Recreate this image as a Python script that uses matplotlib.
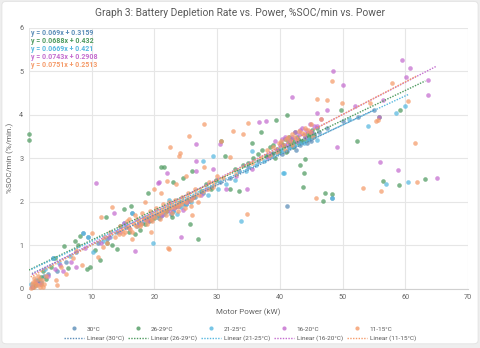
import numpy as np
import matplotlib
matplotlib.use("Agg")
import matplotlib.pyplot as plt
from matplotlib.patches import FancyBboxPatch
from matplotlib.lines import Line2D

plt.rcParams['font.family'] = ['Roboto', 'DejaVu Sans']

labels = ["30°C", "26-29°C", "21-25°C", "16-20°C", "11-15°C"]
colors = ["#5B8DB8", "#4E9A60", "#56B8E0", "#C46CCF", "#F59B6A"]
slopes = [0.069, 0.0688, 0.0669, 0.0743, 0.0751]
intercepts = [0.3159, 0.432, 0.421, 0.2908, 0.2513]
equations = ["y = 0.069x + 0.3159", "y = 0.0688x + 0.432", "y = 0.0669x + 0.421",
             "y = 0.0743x + 0.2908", "y = 0.0751x + 0.2513"]

# 30°C
x_30 = [0.5, 0.8, 1.2, 1.5, 2.0, 2.4, 3.1, 3.9, 4.5, 6.0, 7.5, 8.7, 9.4, 11.0, 12.5, 14.0,
        15.5, 16.4, 17.2, 18.0, 18.8, 19.5, 20.2, 20.8, 21.5, 22.0, 22.6, 23.3, 24.0, 24.8,
        25.5, 26.5, 27.8, 29.0, 30.5, 32.0, 33.5, 35.0, 36.5, 38.0, 39.0, 40.0, 40.6, 41.2,
        41.8, 42.3, 42.9, 43.5, 44.1, 44.8, 45.5, 46.2, 41.1, 48.3, 47.5, 50.0, 52.5, 55.0,
        40.3, 41.5, 42.6, 43.2, 44.4, 45.0, 19.0, 21.0, 23.0, 25.0]
y_30 = [0.05, 0.12, 0.08, 0.2, 0.15, 0.3, 0.35, 0.71, 0.4, 0.62, 0.85, 1.28, 1.2, 1.05, 1.15, 1.3,
        1.42, 1.75, 1.45, 1.52, 1.6, 1.58, 1.7, 1.62, 1.75, 1.8, 1.72, 1.88, 1.9, 1.95,
        2.02, 2.1, 2.2, 2.35, 2.45, 2.55, 2.7, 2.8, 2.95, 3.05, 3.12, 3.2, 3.3, 3.18,
        3.35, 3.28, 3.42, 3.38, 3.5, 3.45, 3.55, 3.6, 1.91, 2.09, 3.7, 3.85, 3.95, 4.1,
        3.1, 3.25, 3.2, 3.3, 3.35, 3.4, 1.62, 1.68, 1.78, 1.95]

# 26-29°C
x_26 = [0.0, 0.0, 0.6, 1.0, 1.3, 1.9, 2.2, 2.8, 3.5, 4.2, 5.6, 6.3, 7.3, 7.8, 8.1, 9.2, 9.8,
        10.5, 11.3, 12.3, 12.4, 13.2, 14.1, 15.1, 16.3, 17.0, 17.8, 18.5, 19.2, 20.0, 20.6,
        21.1, 21.5, 21.8, 22.4, 22.9, 23.5, 24.1, 24.6, 25.2, 25.7, 26.2, 27.0, 27.5, 28.3,
        29.0, 29.8, 30.7, 31.3, 32.0, 32.8, 33.5, 34.2, 35.0, 35.8, 36.5, 37.2, 37.8, 38.4,
        39.0, 39.4, 39.8, 40.2, 40.6, 41.1, 41.3, 41.7, 42.0, 42.3, 42.7, 43.0, 43.3, 43.7,
        43.9, 44.0, 44.3, 44.6, 45.0, 45.5, 46.0, 46.9, 47.2, 48.3, 49.8, 52.3, 55.8, 56.4,
        59.0, 59.1, 63.2, 37.0, 35.5, 26.0, 23.0, 19.0, 16.0, 14.5,
        38.8, 39.6, 40.4, 41.0, 41.5, 42.1, 42.5, 42.9, 43.5, 44.2, 44.8, 45.2, 40.9, 39.2]
y_26 = [3.55, 3.42, 0.05, 0.1, 0.18, 0.28, 0.4, 0.22, 0.5, 0.72, 0.99, 0.48, 1.1, 1.01, 1.22, 0.45, 0.5,
        0.9, 0.67, 1.66, 1.05, 1.0, 0.91, 1.83, 1.91, 1.25, 1.35, 1.5, 1.55, 1.62, 1.7,
        2.81, 2.8, 1.78, 1.85, 1.65, 1.9, 2.0, 2.55, 2.05, 1.49, 2.1, 1.14, 2.25, 2.4,
        2.3, 2.5, 3.4, 3.06, 2.3, 2.75, 2.25, 2.85, 2.9, 3.0, 3.1, 3.2, 3.05, 3.25,
        3.3, 3.88, 3.15, 3.35, 3.28, 4.0, 3.4, 3.32, 3.45, 3.38, 3.5, 3.42, 2.85, 2.35,
        2.67, 2.98, 3.55, 3.48, 3.6, 3.52, 3.7, 2.03, 2.2, 2.18, 4.11, 3.39, 3.95, 2.47,
        2.38, 4.1, 2.52, 3.6, 3.35, 2.7, 2.45, 2.2, 1.3, 1.45,
        3.1, 3.22, 3.3, 3.15, 3.5, 3.25, 3.6, 3.35, 3.4, 3.42, 3.55, 3.65, 3.45, 3.0]

# 21-25°C
x_21 = [0.4, 1.1, 2.0, 2.6, 3.9, 4.8, 6.5, 8.7, 9.4, 10.2, 11.8, 13.0, 15.2, 16.4, 17.5, 18.6,
        19.8, 20.5, 21.6, 22.3, 23.0, 23.6, 24.3, 25.0, 25.8, 27.8, 28.5, 29.4, 30.2, 31.5,
        32.8, 33.9, 34.6, 35.5, 36.2, 37.5, 38.6, 39.5, 40.3, 40.5, 40.6, 41.4, 42.2, 43.0,
        43.8, 44.5, 45.3, 46.0, 48.3, 51.0, 54.0, 57.0, 58.5, 60.5, 60.0]
y_21 = [0.1, 0.2, 0.12, 0.45, 0.71, 0.6, 0.75, 1.28, 1.2, 0.85, 1.1, 1.2, 1.51, 1.75, 1.48, 1.58,
        1.06, 1.65, 1.72, 2.05, 1.8, 1.72, 1.88, 1.95, 2.0, 2.93, 2.15, 3.06, 2.3, 2.4,
        2.5, 1.55, 2.7, 3.16, 2.85, 2.95, 3.05, 3.12, 3.2, 2.67, 2.66, 3.25, 3.3, 3.38,
        3.36, 3.45, 3.5, 3.42, 2.09, 3.9, 3.75, 2.41, 4.05, 2.45, 4.2]

# 16-20°C
x_16 = [0.5, 1.2, 1.8, 3.0, 4.2, 4.9, 5.5, 6.8, 7.5, 9.0, 10.7, 11.5, 12.8, 13.5, 14.6, 15.2,
        16.0, 16.9, 17.6, 18.4, 19.0, 19.7, 20.6, 20.7, 21.3, 22.0, 22.5, 23.1, 23.8, 24.2,
        24.5, 25.2, 26.0, 26.7, 26.7, 26.7, 27.4, 28.2, 29.4, 30.4, 31.5, 33.0, 34.7, 35.5,
        36.7, 37.8, 38.5, 39.2, 40.0, 40.8, 41.5, 41.9, 42.4, 43.0, 43.6, 44.2, 44.8, 45.5,
        45.9, 46.5, 47.5, 48.5, 49.2, 50.0, 52.0, 55.8, 56.0, 56.5, 58.9, 59.5, 60.1, 60.8,
        63.7, 63.7, 65.0, 39.6, 40.4, 41.2, 42.0, 42.8, 43.3, 44.0, 45.0, 46.0, 38.2]
y_16 = [0.05, 0.15, 0.1, 0.3, 0.45, 0.55, 0.4, 0.62, 0.5, 0.94, 2.44, 1.05, 1.2, 1.74, 1.3, 1.51,
        1.4, 0.87, 1.5, 1.6, 1.55, 1.68, 2.44, 2.45, 1.7, 2.67, 1.78, 1.85, 1.9, 1.2,
        1.82, 2.0, 2.08, 3.33, 2.93, 2.72, 2.15, 2.3, 2.75, 3.33, 2.29, 2.6, 2.29, 2.75,
        3.84, 3.85, 3.1, 3.4, 3.3, 3.5, 3.42, 4.42, 3.6, 3.55, 3.7, 3.65, 3.8, 3.75,
        4.05, 3.9, 4.1, 5.0, 3.27, 4.69, 4.2, 3.95, 2.91, 4.33, 2.73, 5.25, 4.86, 5.07,
        4.79, 4.45, 2.54, 3.2, 3.45, 3.3, 3.5, 3.4, 3.65, 3.5, 3.6, 3.75, 3.0]

# 11-15°C
x_11 = [0.3, 0.5, 0.8, 1.0, 1.3, 1.6, 2.0, 2.3, 2.8, 4.4, 4.5, 5.2, 6.0, 7.0, 7.6, 8.5,
        10.0, 11.0, 11.5, 11.9, 12.5, 13.3, 13.8, 14.3, 14.8, 15.3, 15.8, 16.2, 16.7, 17.1,
        17.5, 17.9, 18.3, 18.7, 19.1, 19.4, 19.8, 20.1, 20.4, 20.7, 21.0, 21.3, 21.6, 21.9,
        22.2, 22.5, 22.8, 23.1, 23.4, 23.7, 24.0, 24.3, 24.6, 25.0, 25.4, 25.8, 26.2, 26.7,
        27.2, 27.8, 28.5, 22.3, 22.2, 22.0, 22.5, 24.1, 24.0, 25.5, 27.9, 30.7, 32.1, 32.5,
        34.1, 34.7, 34.9, 20.0, 18.5, 16.5, 19.5, 21.0, 23.5, 25.0, 26.0, 28.0, 29.5, 31.0,
        33.0, 35.5, 37.0, 38.0, 39.0, 39.8, 40.5, 41.0, 41.6, 42.0, 42.5, 43.0, 43.5, 44.0,
        44.5, 45.0, 45.8, 45.9, 46.5, 47.5, 48.3, 49.9, 54.4, 55.4, 55.7, 56.1, 57.9, 60.5,
        61.5, 61.8, 53.2,
        15.0, 15.6, 16.0, 16.4, 16.9, 17.3, 17.7, 18.1, 18.9, 19.3, 19.6, 20.3, 20.9, 21.4,
        21.8, 22.4, 22.9, 23.3, 23.8, 24.4, 24.9, 25.3, 25.9, 26.5, 27.0, 14.5, 13.0, 12.0,
        28.8, 29.3, 30.0, 38.5, 39.5, 40.2, 40.8, 41.3, 41.9, 42.8, 43.8, 44.8, 45.3,
        0.6, 0.9, 1.2, 1.5, 1.8, 2.1, 2.5]
y_11 = [0.02, 0.1, 0.05, 0.18, 0.08, 0.22, 0.12, 0.05, 0.3, 0.21, 0.08, 0.5, 0.35, 0.7, 0.9, 0.55,
        1.29, 0.74, 1.66, 0.97, 1.05, 1.88, 1.2, 1.25, 1.35, 1.3, 1.42, 1.38, 1.5, 1.45,
        1.55, 1.5, 1.62, 1.58, 1.65, 1.6, 1.7, 1.66, 1.75, 1.72, 1.8, 1.76, 1.84, 1.8,
        1.88, 1.85, 1.92, 1.88, 1.95, 1.9, 1.98, 1.94, 2.02, 2.0, 2.08, 2.05, 2.12, 2.18,
        2.15, 2.25, 2.3, 0.91, 0.93, 2.47, 3.25, 3.12, 3.05, 3.52, 3.79, 3.4, 3.03, 3.63,
        3.55, 1.72, 3.81, 2.3, 2.0, 1.15, 1.3, 2.2, 2.4, 2.6, 1.7, 2.8, 2.4, 2.55,
        2.65, 2.9, 3.0, 3.2, 3.25, 3.35, 3.3, 3.45, 3.4, 3.55, 3.5, 3.62, 3.58, 3.7,
        3.65, 3.8, 2.08, 4.36, 3.9, 4.34, 4.78, 4.28, 4.27, 3.85, 3.88, 2.24, 4.74, 4.32,
        3.36, 2.45, 2.32,
        1.25, 1.55, 1.6, 1.3, 1.7, 1.6, 1.45, 1.75, 1.5, 1.8, 1.55, 1.85, 1.6, 1.95,
        1.7, 2.0, 1.75, 2.05, 1.8, 2.1, 1.85, 2.2, 1.9, 2.3, 2.0, 1.45, 1.3, 1.2,
        2.45, 2.35, 2.6, 3.05, 3.15, 3.4, 3.2, 3.5, 3.3, 3.45, 3.55, 3.6, 3.5,
        0.15, 0.25, 0.12, 0.3, 0.05, 0.2, 0.1]

xs = [x_30, x_26, x_21, x_16, x_11]
ys = [y_30, y_26, y_21, y_16, y_11]

fig = plt.figure(figsize=(4.8, 3.48), dpi=100, facecolor="#eeeeee")
card = FancyBboxPatch((0.004, 0.012), 0.992, 0.984, boxstyle="round,pad=0,rounding_size=0.01",
                      transform=fig.transFigure, facecolor="white", edgecolor="#e2e2e2",
                      lw=0.6, zorder=-10)
fig.patches.append(card)

ax = fig.add_axes([0.060, 0.170, 0.915, 0.750])
ax.set_facecolor("none")

handles = []
for x, y, c, lab, m, b in zip(xs, ys, colors, labels, slopes, intercepts):
    ax.scatter(x, y, s=11, color=c, alpha=0.72, linewidths=0, zorder=3, clip_on=False)
    xl = np.array([min(x), max(x)])
    ax.plot(xl, m * xl + b, color=c, lw=1.0, ls=(0, (1, 1)), zorder=4)
    handles.append(Line2D([], [], ls="none", marker="o", ms=3.0, color=c, alpha=0.8,
                          markeredgewidth=0, label=lab))
    handles.append(Line2D([], [], color=c, lw=1.0, ls=(0, (1, 1)), label="Linear (" + lab + ")"))

for i, (eq, c) in enumerate(zip(equations, colors)):
    ax.text(0.004, 0.982 - i * 0.031, eq, transform=ax.transAxes, color=c, fontsize=5.0,
            fontweight="bold", va="center", ha="left", zorder=5)

ax.set_xlim(0, 70)
ax.set_ylim(0, 6)
ax.set_xticks(range(0, 71, 10))
ax.set_yticks(range(0, 7))
ax.grid(True, color="#e6e6e6", lw=0.8, zorder=0)
ax.set_axisbelow(True)
for s in ["top", "right", "left"]:
    ax.spines[s].set_visible(False)
ax.spines["bottom"].set_color("#d0d0d0")
ax.tick_params(length=0, labelsize=5.2, colors="#666666", pad=4)

ax.set_xlabel("Motor Power (kW)", fontsize=5.8, color="#666666", labelpad=5)
ax.set_ylabel("%SOC/min (%/min.)", fontsize=5.8, color="#666666", labelpad=4)
fig.text(0.5, 0.962, "Graph 3: Battery Depletion Rate vs. Power, %SOC/min vs. Power",
         ha="center", va="center", fontsize=7.4, color="#595959")

fig.legend(handles=handles, ncol=5, loc="lower center", bbox_to_anchor=(0.5, 0.003),
           frameon=False, fontsize=4.6, labelcolor="#595959", handlelength=3.2,
           columnspacing=0.6, handletextpad=0.4, labelspacing=0.6)

fig.savefig("out.png", dpi=100, facecolor=fig.get_facecolor())
